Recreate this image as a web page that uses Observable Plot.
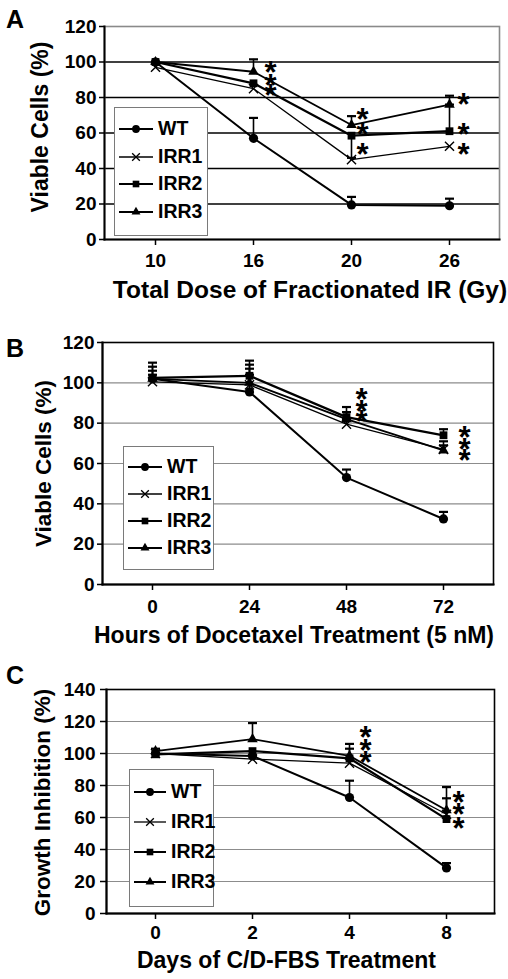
<!DOCTYPE html>
<html><head><meta charset="utf-8">
<script src="https://cdn.jsdelivr.net/npm/d3@7"></script>
<script src="https://cdn.jsdelivr.net/npm/@observablehq/plot@0.6"></script>
<style>
body{margin:0;background:#fff;font-family:"Liberation Sans",Arial,sans-serif;}
#root{width:508px;}
.panel{position:relative;width:508px;overflow:hidden;}
.panel svg{display:block;}
.letter{position:absolute;left:6px;font-weight:bold;font-size:25px;line-height:1;color:#000;}
.legend{position:absolute;background:#fff;border:1px solid #7a7a7a;box-sizing:border-box;}
.legend .item{position:absolute;display:flex;align-items:center;font-weight:bold;font-size:19.5px;line-height:1;color:#000;}
.legend .item svg{margin-right:5px;}
</style></head><body><div id="root"></div>
<script>
const seriesNames = ["WT", "IRR1", "IRR2", "IRR3"];

// ---- Panel A: fractionated IR ----
const doseA = ["10", "16", "20", "26"];
const wtA   = [100, 57, 19.5, 19];
const irr1A = [97, 85, 45, 52.5];
const irr2A = [100, 88, 58.5, 61];
const irr3A = [100, 94.5, 64.5, 76];
const wtErrA   = [null, 68.5, 24, 23];
const irr1ErrA = [null, null, null, null];
const irr2ErrA = [null, null, 46, 76];
const irr3ErrA = [null, 101.5, 69.5, 81];
const starXA = ["16", "16", "16", "20", "20", "20", "26", "26", "26"];
const starYA = [98.5, 91, 85.5, 72, 63.5, 52, 80, 63.5, 52];
const yTicksA = [0, 20, 40, 60, 80, 100, 120];

// ---- Panel B: docetaxel ----
const hoursB = ["0", "24", "48", "72"];
const wtB   = [102, 95.5, 53, 32.5];
const irr1B = [100.5, 99, 79.5, 67];
const irr2B = [102.5, 103.5, 83, 74];
const irr3B = [102, 100, 82, 66.5];
const wtErrB   = [106, 107, 57, 36];
const irr1ErrB = [104, 104, 82, 69];
const irr2ErrB = [110, 111, 88, 77];
const irr3ErrB = [108, 109, 85.5, 71];
const starXB = ["48", "48", "48", "72", "72", "72"];
const starYB = [95.5, 89.5, 84.5, 76.5, 70.5, 65];
const yTicksB = [0, 20, 40, 60, 80, 100, 120];

// ---- Panel C: C/D-FBS ----
const daysC = ["0", "2", "4", "8"];
const wtC   = [100, 98.5, 72.5, 28.5];
const irr1C = [100, 96.5, 94, 62];
const irr2C = [99.5, 101.5, 97, 59];
const irr3C = [101.5, 109, 98.5, 64.5];
const wtErrC   = [null, null, 83, 31.5];
const irr1ErrC = [null, null, null, null];
const irr2ErrC = [null, null, 103, 72];
const irr3ErrC = [103, 119, 106, 79];
const starXC = ["4", "4", "4", "8", "8", "8"];
const starYC = [114.5, 106.5, 99, 74, 66.5, 58];
const yTicksC = [0, 20, 40, 60, 80, 100, 120, 140];

// ---------------- rendering ----------------
const symbolOf = {WT: "circle", IRR1: "times", IRR2: "square", IRR3: "triangle"};
const rOf = {WT: 4.6, IRR1: 4.2, IRR2: 4.4, IRR3: 3.9};
const lineW = {WT: 2, IRR1: 1.3, IRR2: 2.3, IRR3: 1.8};
const capSymbol = {draw(ctx, size) { const w = 4.5; ctx.moveTo(-w, 0); ctx.lineTo(w, 0); }};

function makePanel(cfg) {
  const rows = [], errRows = [];
  cfg.series.forEach((vals, si) => vals.forEach((v, i) => {
    rows.push({x: cfg.cats[i], y: v, s: seriesNames[si]});
    const e = cfg.errs[si][i];
    if (e != null) errRows.push({x: cfg.cats[i], y1: v, y2: e, s: seriesNames[si]});
  }));
  const stars = cfg.starX.map((x, i) => ({x, y: cfg.starY[i]}));
  const marks = [];
  marks.push(Plot.ruleY(cfg.yTicks.filter(t => t > 0 && t < cfg.yMax), {stroke: cfg.gridColor, strokeWidth: cfg.gridWidth}));
  marks.push(Plot.frame({stroke: cfg.frameColor, strokeWidth: 1.6}));
  marks.push(Plot.frame({anchor: "left", stroke: "#000", strokeWidth: 2}));
  marks.push(Plot.frame({anchor: "bottom", stroke: "#000", strokeWidth: 2}));
  marks.push(Plot.ruleX(errRows, {x: "x", y1: "y1", y2: "y2", stroke: "#000", strokeWidth: 1.6}));
  marks.push(Plot.dot(errRows, {x: "x", y: "y2", symbol: capSymbol, r: 4, stroke: "#000", strokeWidth: 2.2, fill: "none"}));
  for (const s of seriesNames) {
    const d = rows.filter(r => r.s === s);
    marks.push(Plot.line(d, {x: "x", y: "y", stroke: "#000", strokeWidth: lineW[s]}));
  }
  for (const s of seriesNames) {
    const d = rows.filter(r => r.s === s);
    if (s === "IRR1") marks.push(Plot.dot(d, {x: "x", y: "y", symbol: "times", r: rOf[s], stroke: "#000", strokeWidth: 1.4}));
    else marks.push(Plot.dot(d, {x: "x", y: "y", symbol: symbolOf[s], r: rOf[s], fill: "#000", stroke: "none"}));
  }
  for (const [cat, dx] of Object.entries(cfg.starDx)) {
    marks.push(Plot.text(stars.filter(d => d.x === cat), {x: "x", y: "y", text: () => "*", dx, dy: 8, fontSize: 31, fontWeight: "bold", fill: "#000", lineAnchor: "middle"}));
  }
  marks.push(Plot.axisY({ticks: cfg.yTicks, tickSize: cfg.yTickSize, tickPadding: cfg.yTickPad, fontSize: 19, fontWeight: "bold", label: null, stroke: "#000", strokeWidth: 1.5}));
  marks.push(Plot.axisX({tickSize: 6, tickPadding: cfg.xTickPad, fontSize: 19, fontWeight: "bold", label: null, stroke: "#000", strokeWidth: 1.5}));
  marks.push(Plot.text([cfg.xLabel], {text: d => d, frameAnchor: "bottom", textAnchor: "middle", dy: cfg.xLabelDy, dx: cfg.xLabelDx, fontSize: cfg.xLabelSize, fontWeight: "bold", lineAnchor: "middle", fill: "#000"}));
  marks.push(Plot.text([cfg.yLabel], {text: d => d, frameAnchor: "left", textAnchor: "middle", rotate: -90, dx: cfg.yLabelDx, dy: cfg.yLabelDy, fontSize: cfg.yLabelSize, fontWeight: "bold", lineAnchor: "middle", fill: "#000"}));

  const svg = Plot.plot({
    width: 508, height: cfg.height,
    marginTop: cfg.mt, marginBottom: cfg.mb, marginLeft: cfg.ml, marginRight: cfg.mr,
    style: {fontFamily: '"Liberation Sans", Arial, sans-serif', background: "#fff", color: "#000", overflow: "visible"},
    x: {type: "point", domain: cfg.cats, padding: 0.5},
    y: {domain: [0, cfg.yMax]},
    marks
  });

  const div = document.createElement("div");
  div.className = "panel";
  div.style.height = cfg.height + "px";
  div.appendChild(svg);
  const letter = document.createElement("div");
  letter.className = "letter";
  letter.textContent = cfg.letter;
  letter.style.top = cfg.letterTop + "px";
  div.appendChild(letter);

  const lg = document.createElement("div");
  lg.className = "legend";
  Object.assign(lg.style, {left: cfg.lg.left + "px", top: cfg.lg.top + "px", width: cfg.lg.w + "px", height: cfg.lg.h + "px"});
  seriesNames.forEach((s, i) => {
    const it = document.createElement("div");
    it.className = "item";
    it.style.left = "4px";
    it.style.top = (cfg.lg.first + i * cfg.lg.step - 10) + "px";
    it.style.height = "20px";
    const ns = "http://www.w3.org/2000/svg";
    const sv = document.createElementNS(ns, "svg");
    sv.setAttribute("width", cfg.lg.lineW); sv.setAttribute("height", 20);
    const ln = document.createElementNS(ns, "line");
    ln.setAttribute("x1", 0); ln.setAttribute("x2", cfg.lg.lineW); ln.setAttribute("y1", 10); ln.setAttribute("y2", 10);
    ln.setAttribute("stroke", "#000"); ln.setAttribute("stroke-width", s === "IRR1" ? 1.3 : 2);
    sv.appendChild(ln);
    const p = document.createElementNS(ns, "path");
    const sym = {circle: d3.symbolCircle, times: d3.symbolTimes, square: d3.symbolSquare, triangle: d3.symbolTriangle}[symbolOf[s]];
    const rr = rOf[s] * 0.85;
    p.setAttribute("d", d3.symbol(sym, rr * rr * Math.PI)());
    p.setAttribute("transform", `translate(${cfg.lg.lineW / 2},10)`);
    if (s === "IRR1") { p.setAttribute("fill", "none"); p.setAttribute("stroke", "#000"); p.setAttribute("stroke-width", 1.3); }
    else p.setAttribute("fill", "#000");
    sv.appendChild(p);
    it.appendChild(sv);
    const t = document.createElement("span");
    t.textContent = s;
    it.appendChild(t);
    lg.appendChild(it);
  });
  div.appendChild(lg);
  return div;
}

const root = document.getElementById("root");
root.appendChild(makePanel({
  letter: "A", letterTop: 7, height: 320, mt: 26, mb: 81, ml: 104, mr: 9,
  cats: doseA, series: [wtA, irr1A, irr2A, irr3A], errs: [wtErrA, irr1ErrA, irr2ErrA, irr3ErrA],
  starX: starXA, starY: starYA, starDx: {"16": 17, "20": 11, "26": 14},
  yTicks: yTicksA, yMax: 120, gridColor: "#000", gridWidth: 1.6, frameColor: "#8a8a8a",
  yTickSize: 5, yTickPad: 3, xTickPad: 8,
  xLabel: "Total Dose of Fractionated IR (Gy)", xLabelDy: 51, xLabelDx: 8, xLabelSize: 24.5,
  yLabel: "Viable Cells (%)", yLabelDx: -64, yLabelDy: -6, yLabelSize: 23,
  lg: {left: 114, top: 107, w: 94, h: 129, first: 21, step: 27.5, lineW: 34}
}));
root.appendChild(makePanel({
  letter: "B", letterTop: 16, height: 330, mt: 22, mb: 66, ml: 102, mr: 15,
  cats: hoursB, series: [wtB, irr1B, irr2B, irr3B], errs: [wtErrB, irr1ErrB, irr2ErrB, irr3ErrB],
  starX: starXB, starY: starYB, starDx: {"48": 15, "72": 21},
  yTicks: yTicksB, yMax: 120, gridColor: "#8c8c8c", gridWidth: 1.1, frameColor: "#000",
  yTickSize: 5, yTickPad: 3, xTickPad: 9,
  xLabel: "Hours of Docetaxel Treatment (5 nM)", xLabelDy: 51, xLabelDx: -4, xLabelSize: 23,
  yLabel: "Viable Cells (%)", yLabelDx: -59, yLabelDy: 0, yLabelSize: 22.5,
  lg: {left: 123, top: 126, w: 91, h: 124, first: 20, step: 27, lineW: 34}
}));
root.appendChild(makePanel({
  letter: "C", letterTop: 13, height: 329, mt: 39, mb: 66, ml: 106, mr: 14,
  cats: daysC, series: [wtC, irr1C, irr2C, irr3C], errs: [wtErrC, irr1ErrC, irr2ErrC, irr3ErrC],
  starX: starXC, starY: starYC, starDx: {"4": 16, "8": 12},
  yTicks: yTicksC, yMax: 140, gridColor: "#8c8c8c", gridWidth: 1.1, frameColor: "#000",
  yTickSize: 6, yTickPad: 5, xTickPad: 6,
  xLabel: "Days of C/D-FBS Treatment", xLabelDy: 47, xLabelDx: -14, xLabelSize: 23,
  yLabel: "Growth Inhibition (%)", yLabelDx: -64, yLabelDy: 1, yLabelSize: 22.5,
  lg: {left: 129, top: 119, w: 85, h: 138, first: 22, step: 30, lineW: 32}
}));
</script></body></html>
